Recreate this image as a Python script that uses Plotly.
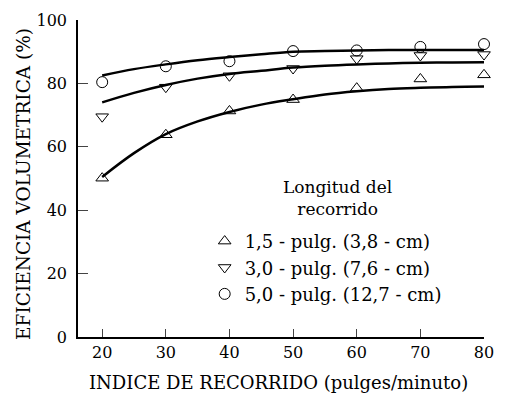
import plotly.graph_objects as go

# Measured data (strokes per minute vs volumetric efficiency %)
x_pts = [20, 30, 40, 50, 60, 70, 80]
eff_15 = [50.1, 63.8, 71.3, 74.9, 78.5, 81.4, 82.7]   # 1,5 pulg (triangle up)
eff_30 = [69.5, 78.8, 82.4, 84.7, 87.8, 88.8, 89.1]   # 3,0 pulg (triangle down)
eff_50 = [80.4, 85.4, 87.0, 90.2, 90.4, 91.5, 92.4]   # 5,0 pulg (circle)

# Fitted curves
x_fit = [20, 25, 30, 35, 40, 45, 50, 55, 60, 65, 70, 75, 80]
fit_15 = [50.5, 58.0, 64.0, 68.0, 71.0, 73.3, 75.0, 76.5, 77.5, 78.2, 78.6, 78.9, 79.0]
fit_30 = [74.0, 77.0, 79.5, 81.5, 83.0, 84.0, 85.0, 85.6, 86.0, 86.3, 86.5, 86.6, 86.7]
fit_50 = [82.5, 84.5, 86.0, 87.3, 88.3, 89.2, 90.0, 90.2, 90.4, 90.5, 90.5, 90.5, 90.5]

labels = ["1,5 - pulg. (3,8 - cm)", "3,0 - pulg. (7,6 - cm)", "5,0 - pulg. (12,7 - cm)"]
x_ticks = [20, 30, 40, 50, 60, 70, 80]
y_ticks = [0, 20, 40, 60, 80, 100]

FONT = "DejaVu Serif"

fig = go.Figure()
for yf in (fit_15, fit_30, fit_50):
    fig.add_trace(go.Scatter(x=x_fit, y=yf, mode="lines", line=dict(color="black", width=2.5, shape="spline"),
                             showlegend=False, hoverinfo="skip"))

for yv, sym, name in ((eff_15, "triangle-up-open", labels[0]),
                      (eff_30, "triangle-down-open", labels[1]),
                      (eff_50, "circle-open", labels[2])):
    fig.add_trace(go.Scatter(x=x_pts, y=yv, mode="markers", name=name, cliponaxis=False,
                             marker=dict(symbol=sym, size=11, color="black", line=dict(color="black", width=1))))

fig.update_layout(
    width=505, height=405,
    margin=dict(l=78, r=11, t=15, b=68),
    paper_bgcolor="white", plot_bgcolor="white",
    font=dict(family=FONT, size=16, color="black"),
    showlegend=True,
    legend=dict(x=0.312, y=0.36, xanchor="left", yanchor="top", bgcolor="rgba(0,0,0,0)",
                font=dict(family=FONT, size=18, color="black"), tracegroupgap=0, itemwidth=30),
    xaxis=dict(range=[16.2, 80], tickvals=x_ticks, ticks="inside", ticklen=8, tickwidth=1.2,
               showline=True, linecolor="black", linewidth=1.5, showgrid=False, zeroline=False,
               tickfont=dict(family=FONT, size=16, color="black")),
    yaxis=dict(range=[0, 100], tickvals=y_ticks, ticks="inside", ticklen=10, tickwidth=1.2,
               showline=True, linecolor="black", linewidth=1.5, showgrid=False, zeroline=False,
               ticklabelstandoff=6, tickfont=dict(family=FONT, size=16, color="black")),
    annotations=[
        dict(text="INDICE DE RECORRIDO (pulges/minuto)", xref="paper", yref="paper", x=0.493, y=-0.143,
             showarrow=False, xanchor="center", yanchor="middle", font=dict(family=FONT, size=18)),
        dict(text="EFICIENCIA VOLUMETRICA (%)", xref="paper", yref="paper", x=-0.1346, y=0.484,
             textangle=-90, showarrow=False, xanchor="center", yanchor="middle", font=dict(family=FONT, size=18.5)),
        dict(text="Longitud del<br>recorrido", xref="paper", yref="paper", x=0.64, y=0.44,
             showarrow=False, xanchor="center", yanchor="middle", font=dict(family=FONT, size=17)),
    ],
)

fig.write_html("out.html")
